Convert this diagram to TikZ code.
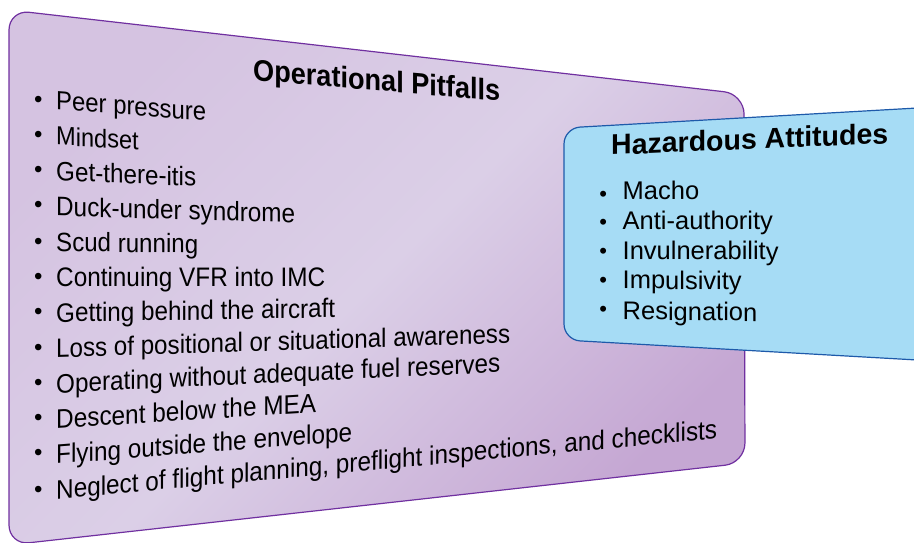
\documentclass[tikz,border=0pt]{standalone}
\usepackage{fontspec}
\setmainfont{Liberation Sans}
\usetikzlibrary{positioning}

\definecolor{pitlight}{RGB}{213,195,225}
\definecolor{pitmid}{RGB}{219,207,231}
\definecolor{pitdark}{RGB}{197,167,211}
\definecolor{pitline}{RGB}{112,48,160}
\definecolor{hazfill}{RGB}{166,220,245}
\definecolor{hazline}{RGB}{30,90,170}

\tikzset{
	pitbox/.style={draw=pitline, line width=1.2pt, rounded corners=20pt,
		top color=pitlight, bottom color=pitdark, middle color=pitmid, shading angle=45},
	hazbox/.style={draw=hazline, line width=1.2pt, rounded corners=16pt, fill=hazfill},
	heading/.style={anchor=base west, inner sep=0pt, font=\bfseries},
	item/.style={anchor=base west, inner sep=0pt},
	tall/.style={yscale=1.1},
	hazitem/.style={anchor=base west, inner sep=0pt, font=\fontsize{25.5}{30}\selectfont},
	dot/.style={anchor=base, inner sep=0pt, font=\fontsize{24}{24}\selectfont},
}

\begin{document}
\begin{tikzpicture}[x=1pt, y=1pt]
	\useasboundingbox (0,0) rectangle (914,-542);
	\clip (0,0) rectangle (914,-542);
	% pitfalls panel
	\draw[pitbox] (9,-10) -- (744,-94) -- (745,-463) -- (9,-545) -- cycle;
	\node[heading, yslant=-0.085, tall] (pt) at (253,-80) {\resizebox{247pt}{!}{Operational Pitfalls}};
	\node[item, yslant=-0.0737, tall] (p0) at (56,-109.5) {\resizebox{150pt}{!}{Peer pressure}};%0
	\node[item, yslant=-0.0586, tall] (p1) at (56,-144.9) {\resizebox{82.5pt}{!}{Mindset}};%1
	\node[item, yslant=-0.0436, tall] (p2) at (56,-180.4) {\resizebox{140pt}{!}{Get-there-itis}};%2
	\node[item, yslant=-0.0285, tall] (p3) at (56,-215.8) {\resizebox{239pt}{!}{Duck-under syndrome}};%3
	\node[item, yslant=-0.0135, tall] (p4) at (56,-251.3) {\resizebox{142pt}{!}{Scud running}};%4
	\node[item, yslant=0.0016, tall] (p5) at (56,-286.7) {\resizebox{269pt}{!}{Continuing VFR into IMC}};%5
	\node[item, yslant=0.0167, tall] (p6) at (56,-322.2) {\resizebox{279pt}{!}{Getting behind the aircraft}};%6
	\node[item, yslant=0.0317, tall] (p7) at (56,-357.6) {\resizebox{454pt}{!}{Loss of positional or situational awareness}};%7
	\node[item, yslant=0.0468, tall] (p8) at (56,-393.1) {\resizebox{444pt}{!}{Operating without adequate fuel reserves}};%8
	\node[item, yslant=0.0618, tall] (p9) at (56,-428.5) {\resizebox{260pt}{!}{Descent below the MEA}};%9
	\node[item, yslant=0.0769, tall] (p10) at (56,-464) {\resizebox{296pt}{!}{Flying outside the envelope}};%10
	\node[item, yslant=0.0920, tall] (p11) at (56,-499.4) {\resizebox{661pt}{!}{Neglect of flight planning, preflight inspections, and checklists}};%11
	\node[dot] (b0) at (38.3,-107.3) {\textbullet};
	\node[dot] (b1) at (38.3,-142.3) {\textbullet};
	\node[dot] (b2) at (38.3,-177.3) {\textbullet};
	\node[dot] (b3) at (38.3,-212.3) {\textbullet};
	\node[dot] (b4) at (38.3,-249) {\textbullet};
	\node[dot] (b5) at (38.3,-284) {\textbullet};
	\node[dot] (b6) at (38.3,-319) {\textbullet};
	\node[dot] (b7) at (38.3,-355.7) {\textbullet};
	\node[dot] (b8) at (38.3,-390.7) {\textbullet};
	\node[dot] (b9) at (38.3,-425.7) {\textbullet};
	\node[dot] (b10) at (38.3,-460.7) {\textbullet};
	\node[dot] (b11) at (38.3,-497.3) {\textbullet};
	% attitudes panel
	\draw[hazbox] (564,-128) -- (935,-107) -- (935,-361) -- (564,-340) -- cycle;
	\node[heading, yslant=0.042] (ht) at (611,-155) {\resizebox{277pt}{!}{Hazardous Attitudes}};
	\node[hazitem, yslant=0.004] (h0) at (622.5,-199.5) {Macho};%0
	\node[hazitem, yslant=0] (h1) at (622.5,-229.3) {Anti-authority};%1
	\node[hazitem, yslant=-0.005] (h2) at (622.5,-259.3) {Invulnerability};%2
	\node[hazitem, yslant=-0.01] (h3) at (622.5,-288.6) {Impulsivity};%3
	\node[hazitem, yslant=-0.014] (h4) at (622.5,-319.5) {Resignation};%4
	\node[dot, font=\fontsize{22}{22}\selectfont] (c0) at (603.3,-201.3) {\textbullet};
	\node[dot, font=\fontsize{22}{22}\selectfont] (c1) at (603.3,-229.7) {\textbullet};
	\node[dot, font=\fontsize{22}{22}\selectfont] (c2) at (603.3,-258.7) {\textbullet};
	\node[dot, font=\fontsize{22}{22}\selectfont] (c3) at (603.3,-287.3) {\textbullet};
	\node[dot, font=\fontsize{22}{22}\selectfont] (c4) at (603.3,-316) {\textbullet};
\end{tikzpicture}
\end{document}
